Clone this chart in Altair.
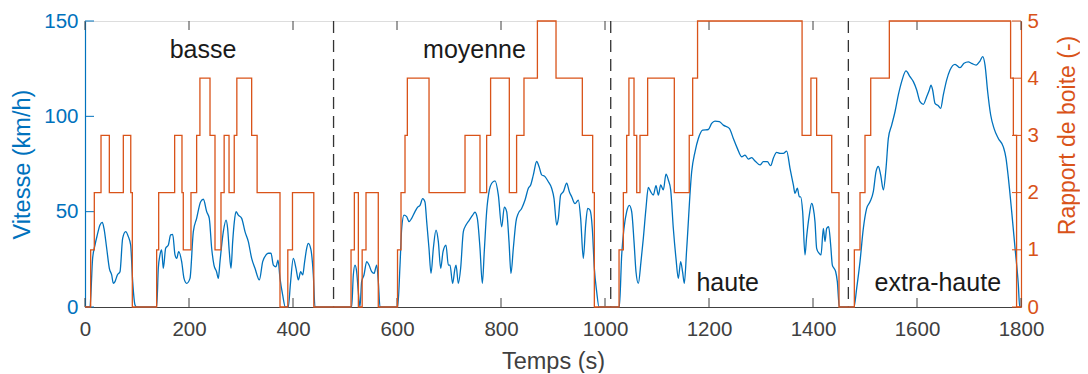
import altair as alt
import pandas as pd

# ---------------- data ----------------
speed_t = [0, 9.6, 11, 14.5, 19.2, 23.7, 28.8, 33.3, 36.5, 41.7, 46.8, 51.3, 54.5, 57.7, 62.2, 67.3,
           72.4, 78.2, 83.3, 87.8, 91.7, 96.2, 99.4, 137.8, 141, 144.2, 147.4, 150.6, 155.1, 160.3,
           164.7, 168.6, 173.1, 176.3, 180.1, 185.9, 190.4, 195.5, 201.9, 208.3, 214.7, 222.4, 227.6,
           234, 239, 243.6, 248, 253, 256.4, 259.6, 266, 271.2, 274.3, 277.5, 280.8, 284, 287.2, 290.4,
           294.9, 301.3, 307.7, 314.1, 320.5, 326.9, 335.3, 341.7, 348.1, 352.6, 357.7, 362.2, 367.3,
           371.2, 375, 380.1, 385.3, 391, 395, 400.6, 405.8, 410.3, 414.7, 418.6, 422.4, 426.3, 429.5,
           434.6, 439.1, 442.3, 512.8, 516, 519.2, 522.4, 525.6, 528.8, 532, 536.5, 541.7, 546.2, 551.3,
           555.8, 560.9, 564.1, 567.3, 601.3, 605.8, 609, 613.5, 618.6, 623.1, 628.2, 634.6, 639.8,
           644.2, 649.4, 653.8, 657.1, 661.5, 665.4, 669.9, 675, 679.5, 684, 688.5, 694.2, 698.7, 701.9,
           707, 711.5, 713.5, 718, 722.4, 727.6, 732.7, 739.1, 745.5, 750, 754.5, 759.6, 764.1, 768,
           772.4, 777.6, 782.1, 788.5, 794.9, 801.3, 806.4, 810.9, 815.4, 819.2, 823.7, 828.8, 833.3,
           839.7, 846.2, 852.6, 857.1, 862.2, 868.6, 873.1, 878.2, 884.6, 891, 897.4, 901.9, 907.1,
           910.3, 914.7, 920, 926.3, 931.4, 935.9, 942.3, 948.7, 953.2, 958.3, 962.8, 966.7, 971.2,
           975.6, 979.5, 984, 988.5, 1027.6, 1032.1, 1036.5, 1041.7, 1046.8, 1051.3, 1055.8, 1059.6,
           1064.1, 1069.2, 1073.7, 1078.8, 1083.3, 1087.8, 1092.9, 1098.1, 1102.6, 1107.1, 1112.2,
           1117.3, 1121.8, 1126.3, 1131.4, 1136.5, 1141, 1145.5, 1149.4, 1152.5, 1157, 1166.7, 1173.1,
           1179.5, 1187.8, 1198.7, 1205.1, 1211.5, 1219.9, 1227.6, 1239.1, 1246.8, 1254.5, 1262.8,
           1269.2, 1275.6, 1282, 1288.5, 1298.1, 1304.5, 1312.2, 1318.6, 1323.7, 1330.1, 1336.5,
           1342.9, 1349.4, 1355.8, 1362.2, 1365.4, 1369.9, 1373.7, 1376.3, 1380.1, 1384.6, 1387.8,
           1392.9, 1397.4, 1400.6, 1403.8, 1407, 1411.5, 1415.4, 1419.9, 1423.1, 1426.3, 1430.1, 1434,
           1437.2, 1440.4, 1443.6, 1446.8, 1450.6, 1478.8, 1484, 1490.4, 1496.8, 1503.2, 1509.6, 1516,
           1521.2, 1525.6, 1530.1, 1535.3, 1540.4, 1544.9, 1551.3, 1557.7, 1564.1, 1570.5, 1578.8,
           1586.5, 1593, 1599.4, 1605.8, 1612.2, 1618.6, 1623.7, 1626.9, 1630.1, 1634.6, 1641, 1645.5,
           1650.6, 1657.1, 1663.5, 1673.1, 1682.7, 1690.4, 1698.7, 1705.1, 1713.5, 1721.2, 1726.3,
           1730.8, 1735.9, 1741.7, 1748.1, 1756.4, 1766, 1771.2, 1775.6, 1782.1, 1788.5, 1794.9,
           1797.5, 1800]
speed_v = [0, 0, 5, 25, 32.5, 37.8, 43, 44.4, 41.2, 30.8, 20.3, 16.8, 12.4, 13.3, 16.8, 18.5,
           36, 39.5, 36.9, 32.5, 13.3, 1, 0, 0, 20.3, 27.3, 29.9, 20.3, 30.8, 32.5,
           37.8, 38.1, 27.3, 25.5, 29, 23.8, 15, 12.4, 15, 39.5, 46.5, 55.2, 56.5,
           50, 46.5, 30.8, 22, 18.5, 15, 23.8, 39.5, 45.6, 41.2, 29, 20.3, 34.3, 44.8, 50,
           48.2, 46.5, 39.5, 34.3, 25.5, 20.3, 14.2, 23.8, 27.3, 28.2, 28.2, 22, 21.1,
           24.6, 15, 6.3, 0, 0, 12, 25.5, 20.3, 14.2, 18.5, 16.8, 23.8, 30.8, 33.4,
           29.9, 16.8, 0, 0, 16.8, 22, 18.5, 8, 0, 13.3, 16.8, 23.8, 22, 18.5,
           17.6, 22, 13.3, 0, 0, 22, 41.2, 48.2, 47.4, 44.8, 46.5, 50, 52.4,
           53.3, 56.8, 55.1, 44.8, 30.8, 17.6, 30.8, 40.3, 34.3, 20.3, 29, 32.5, 22, 22,
           12.4, 20.3, 22, 12.4, 20.3, 39.5, 43, 45.6, 48.2, 49.7, 46.5, 30.8, 12.4, 29.9,
           50, 61.4, 64.9, 66.2, 58.7, 42.1, 52.4, 50, 34.3, 17.6, 30.8, 44.8, 49.1,
           51.7, 56.1, 62.3, 64, 69.3, 76.3, 73.7, 69.3, 68.4, 65.7, 62.3, 57, 43,
           46.5, 58.7, 60.5, 64.9, 60.5, 57.8, 54.2, 56.1, 46.5, 25.5, 43, 51.7, 50.8,
           41.2, 20.3, 8, 0, 0, 27.3, 41.2, 50, 53.3, 50, 34.3, 18.5,
           12.4, 23.8, 36, 51.7, 62.7, 60.5, 58.7, 63.6, 58.7, 64, 61.4,
           69.7, 66.6, 61.4, 41.2, 25.5, 15, 23.8, 18, 12.4, 30, 71, 81.4,
           88.4, 92.8, 93.1, 96.3, 97.5, 97.2, 95.4, 93.7, 88.4, 83.2, 78.8,
           79.7, 77.6, 78.3, 76.6, 74.5, 76.2, 76.2, 74.1, 78, 81.1, 80.6,
           80.6, 81.8, 72.7, 64, 59.6, 62.3, 57.8, 57.8, 50, 27.3, 36.9,
           48.2, 54.3, 51.7, 44.8, 30.8, 28.2, 27.3, 41.2, 34.3, 41.2, 42.1, 32.5,
           22, 20.3, 18.5, 13.3, 0, 0, 9.8, 23.8, 41.2, 51.7, 55.2, 60.5,
           71, 73.7, 69.3, 61.4, 72.7, 88.4, 95.4, 102.4, 111.2, 118.2, 123.8,
           120.8, 118.2, 113.8, 107.7, 106.3, 110.3, 113.8, 116.4, 113.8, 106.8, 105.6, 104.2,
           111.2, 119.1, 124.3, 127.3, 125.5, 127.8, 128.6, 127.8, 126.9, 129, 131.3,
           126.9, 112.9, 100.7, 93.7, 88.4, 84, 78, 68, 50, 31, 11.5,
           0, 0]

gear_t = [0, 10.9, 17.9, 30.8, 46.8, 73.7, 88, 91, 137.8, 141.7, 172.4, 186.5, 189, 203.8, 214.7,
          221, 240.4, 250, 261.5, 267.6, 277, 287, 292, 320.5, 331, 375, 390, 399, 440, 511.6, 518,
          525.7, 533, 540.4, 564, 601, 607.7, 615.4, 619.9, 661.6, 730.8, 759.6, 772.4, 780, 816,
          830, 844.2, 870, 905.8, 956.4, 976.3, 979.5, 1027, 1035.3, 1041.7, 1046, 1055.8, 1061,
          1067.3, 1082, 1133.3, 1162, 1168.6, 1178, 1379, 1396, 1407, 1436, 1450, 1479.5, 1490.4,
          1500, 1511, 1546.8, 1780, 1785.3, 1791.5, 1800]
gear_v = [0, 1, 2, 3, 2, 3, 2, 0, 1, 2, 3, 2, 1, 2, 3,
          4, 3, 1, 2, 3, 2, 3, 4, 3, 2, 0, 1, 2, 0, 1, 2,
          0, 1, 2, 0, 1, 2, 3, 4, 2, 3, 2, 3, 4, 2,
          3, 4, 5, 4, 3, 2, 0, 1, 2, 3, 4, 3, 2,
          3, 4, 2, 3, 4, 5, 3, 4, 3, 2, 0, 1, 2,
          3, 4, 5, 4, 3, 0, 0]

phase_t = [478, 1011, 1468]
phase_names = ["basse", "moyenne", "haute", "extra-haute"]
phase_label_t = [227, 749, 1236, 1640]
phase_label_v = [130.7, 130.7, 8.4, 8.4]

x_ticks = [0, 200, 400, 600, 800, 1000, 1200, 1400, 1600, 1800]
speed_ticks = [0, 50, 100, 150]
gear_ticks = [0, 1, 2, 3, 4, 5]

# ---------------- styling ----------------
BLUE = "#0072BD"
ORANGE = "#D95319"
AXGREY = "#404040"
FONT = "Liberation Sans"
W, H = 936, 286
TICK = 9

speed_df = pd.DataFrame({"t": speed_t, "v": speed_v})
gear_df = pd.DataFrame({"t": gear_t, "g": gear_v})
phase_df = pd.DataFrame({"t": phase_t})
label_df = pd.DataFrame({"t": phase_label_t, "v": phase_label_v, "label": phase_names})
xt_df = pd.DataFrame({"t": x_ticks})
st_df = pd.DataFrame({"v": speed_ticks})
gt_df = pd.DataFrame({"g": gear_ticks})

x_enc = alt.X(
    "t:Q",
    scale=alt.Scale(domain=[0, 1800], nice=False, zero=False),
    axis=alt.Axis(
        values=x_ticks, title="Temps (s)", ticks=False, grid=False, format="d",
        labelFlush=False, labelOverlap=False, labelPadding=12,
        labelColor=AXGREY, labelFontSize=20.5, labelFont=FONT,
        titleFont=FONT, titleFontSize=23.5, titleFontWeight="normal", titleColor=AXGREY,
        titleBaseline="alphabetic", titleY=61,
        domainColor=AXGREY, domainWidth=1,
    ),
)

y_speed = alt.Y(
    "v:Q",
    scale=alt.Scale(domain=[0, 150], nice=False),
    axis=alt.Axis(
        orient="left", values=speed_ticks, title="Vitesse (km/h)", ticks=False, grid=False,
        format="d",
        labelColor=BLUE, labelFontSize=20.5, labelFont=FONT, labelPadding=7,
        titleColor=BLUE, titleFont=FONT, titleFontSize=23.5, titleFontWeight="normal",
        titleAngle=270, titleBaseline="alphabetic", titleX=-56, titleY=H / 2,
        domainColor=BLUE, domainWidth=1.2,
    ),
)

y_gear = alt.Y(
    "g:Q",
    scale=alt.Scale(domain=[0, 5], nice=False),
    axis=alt.Axis(
        orient="right", values=gear_ticks, title="Rapport de boite (-)", ticks=False, grid=False,
        format="d",
        labelColor=ORANGE, labelFontSize=20.5, labelFont=FONT, labelPadding=6,
        titleColor=ORANGE, titleFont=FONT, titleFontSize=23, titleFontWeight="normal",
        titleAngle=270, titleBaseline="alphabetic", titleX=53, titleY=114,
        domainColor=ORANGE, domainWidth=1.2,
    ),
)

speed_line = alt.Chart(speed_df).mark_line(
    color=BLUE, strokeWidth=1.3, interpolate="monotone"
).encode(x=x_enc, y=y_speed)

phase_rules = alt.Chart(phase_df).mark_rule(
    color="#333333", strokeWidth=1.3, strokeDash=[12, 7]
).encode(x=x_enc)

labels = alt.Chart(label_df).mark_text(
    font=FONT, fontSize=25, color="#1a1a1a", align="center", baseline="alphabetic"
).encode(x=x_enc, y=y_speed, text="label:N")

xticks_bottom = alt.Chart(xt_df).mark_rule(color=AXGREY, strokeWidth=1).encode(
    x=x_enc, y=alt.value(H), y2=alt.value(H - TICK)
)
xticks_top = alt.Chart(xt_df).mark_rule(color=AXGREY, strokeWidth=1).encode(
    x=x_enc, y=alt.value(0), y2=alt.value(TICK)
)
speed_ticks_marks = alt.Chart(st_df).mark_rule(color=BLUE, strokeWidth=1).encode(
    y=y_speed, x=alt.value(0), x2=alt.value(TICK)
)

gear_line = alt.Chart(gear_df).mark_line(
    color=ORANGE, strokeWidth=1.3, interpolate="step-after"
).encode(x=x_enc, y=y_gear)
gear_ticks_marks = alt.Chart(gt_df).mark_rule(color=ORANGE, strokeWidth=1).encode(
    y=y_gear, x=alt.value(W - TICK), x2=alt.value(W)
)

left_group = alt.layer(xticks_bottom, xticks_top, speed_ticks_marks, phase_rules, speed_line, labels)
right_group = alt.layer(gear_ticks_marks, gear_line)

chart = alt.layer(left_group, right_group).resolve_scale(y="independent").properties(
    width=W,
    height=H,
    autosize=alt.AutoSizeParams(type="none"),
    padding={"left": 77, "top": 13, "right": 59, "bottom": 66},
).configure_view(stroke="#555555", strokeWidth=1).configure(background="white")

chart.save("out.html", embed_options={"renderer": "svg", "actions": False})
